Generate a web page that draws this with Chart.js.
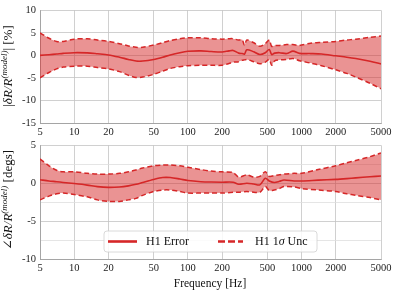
<!DOCTYPE html>
<html><head><meta charset="utf-8">
<script src="https://cdn.jsdelivr.net/npm/chart.js@4.4.0/dist/chart.umd.min.js"></script>
<style>
html,body{margin:0;padding:0;background:#fff;}
#wrap{position:relative;width:399px;height:296px;}
#c1{position:absolute;left:0;top:0;}
#c2{position:absolute;left:0;top:135px;}
</style></head><body>
<div id="wrap">
<div id="c1" style="width:399px;height:145px"><canvas id="top"></canvas></div>
<div id="c2" style="width:399px;height:161px"><canvas id="bot"></canvas></div>
</div>
<script>
// ---- data ----
const xTickValues = [5,10,20,50,100,200,500,1000,2000,5000];
const magTicks = [-15,-10,-5,0,5,10];
const phaseTicks = [-10,-5,0,5];

const magFreq  = [5,6,7,8,10,13,16,20,25,30,35,40,50,60,70,85,100,130,160,200,230,250,280,300,315,330,380,430,480,520,546,580,640,740,840,960,1200,1500,2000,2500,3000,4000,5000];
const magErr   = [0,0.15,0.3,0.45,0.6,0.55,0.35,0.1,-0.4,-0.9,-1.25,-1.25,-0.9,-0.4,0.1,0.6,0.9,1.0,0.85,0.75,1.0,1.1,0.5,0.4,0.3,1.25,0.8,0.2,0.6,1.3,0.15,0.5,0.6,0.4,0.95,0.45,0.4,0.3,-0.1,-0.4,-0.7,-1.3,-1.9];
const magUp    = [5.0,3.8,3.1,3.1,3.6,3.7,3.4,3.1,2.6,2.1,1.8,1.8,2.3,2.8,3.3,3.7,3.9,3.9,3.7,3.6,3.7,3.7,3.4,3.5,2.2,3.4,2.8,2.0,2.6,3.4,2.0,2.2,2.2,2.4,2.4,2.2,2.7,2.9,3.1,3.4,3.6,4.0,4.3];
const magLo    = [-5.0,-3.8,-3.0,-2.6,-2.4,-2.4,-2.7,-3.0,-3.6,-4.4,-4.9,-4.8,-4.2,-3.5,-2.9,-2.5,-2.3,-2.2,-2.2,-2.2,-1.8,-1.5,-1.4,-1.1,-1.0,-0.9,-1.4,-1.85,-1.5,-0.9,-2.2,-1.2,-1.0,-0.9,-0.7,-1.2,-1.7,-2.3,-3.2,-4.0,-4.8,-6.2,-7.4];

const phaseFreq = [5,6,7,8,10,13,16,20,25,30,35,40,50,60,70,85,100,130,160,200,250,280,330,380,430,480,520,575,640,700,860,1000,1400,2000,2500,3000,4000,5000];
const phaseErr  = [0.45,0.3,0.2,0.1,-0.05,-0.25,-0.45,-0.55,-0.5,-0.35,-0.15,0.1,0.5,0.75,0.75,0.55,0.35,0.2,0.15,0.13,0.13,-0.13,0,-0.1,-0.22,0.65,0.3,0.1,0.25,0.43,0.3,0.3,0.4,0.5,0.6,0.7,0.85,0.95];
const phaseUp   = [3.2,2.3,1.7,1.5,1.5,1.3,1.2,1.2,1.3,1.5,1.75,2.0,2.3,2.4,2.4,2.3,2.1,1.8,1.6,1.5,1.4,0.8,1.1,0.8,0.9,1.5,0.9,1.0,1.1,1.2,1.3,1.3,1.8,2.3,2.7,3.0,3.5,4.0];
const phaseLo   = [-2.2,-1.7,-1.4,-1.3,-1.5,-1.8,-2.2,-2.4,-2.4,-2.2,-2.0,-1.6,-1.1,-0.9,-0.9,-1.1,-1.3,-1.3,-1.3,-1.3,-1.2,-1.2,-1.1,-1.2,-1.2,-0.45,-0.97,-0.9,-0.7,-0.45,-0.5,-0.7,-0.9,-1.1,-1.4,-1.6,-1.9,-2.2];

const legendLabels = ['H1 Error','H1 1\u03c3 Unc'];

// ---- styles ----
const RED = '#d62728';
const FILL = 'rgba(214,39,40,0.5)';
const SERIF = '"Liberation Serif", "DejaVu Serif", serif';

function pts(xs, ys){ return xs.map((x,i)=>({x:x, y:ys[i]})); }

function datasets(f, e, u, l){
  return [
    {data:pts(f,u), borderColor:RED, borderWidth:1.5, borderDash:[5,3], backgroundColor:FILL, fill:'+1', pointRadius:0, tension:0.3, order:2},
    {data:pts(f,l), borderColor:RED, borderWidth:1.5, borderDash:[5,3], fill:false, pointRadius:0, tension:0.3, order:2},
    {data:pts(f,e), borderColor:RED, borderWidth:1.6, fill:false, pointRadius:0, tension:0.3, order:1}
  ];
}

function drawRich(ctx, cx, cy, segs){
  ctx.save();
  ctx.translate(cx, cy);
  ctx.rotate(-Math.PI/2);
  ctx.textBaseline = 'alphabetic';
  ctx.fillStyle = '#111';
  let w = 0;
  segs.forEach(s=>{ ctx.font = s.font; w += ctx.measureText(s.t).width; });
  let x = -w/2;
  segs.forEach(s=>{ ctx.font = s.font; ctx.fillText(s.t, x, 4 + (s.dy||0)); x += ctx.measureText(s.t).width; });
  ctx.restore();
}

function xScale(){
  return {
    type:'logarithmic', min:5, max:5000,
    afterBuildTicks: s => { s.ticks = xTickValues.map(v=>({value:v})); },
    ticks:{autoSkip:false, maxRotation:0, padding:3, color:'#222', font:{family:SERIF, size:10.5},
      callback: v => String(v)},
    grid:{color:'#c4c4c4', lineWidth:0.8, drawTicks:false},
    border:{display:true, color:'#9a9a9a', width:0.8}
  };
}
function yScale(min, max, major){
  return {
    type:'linear', min:min, max:max,
    afterFit: s => { s.width = 40; },
    afterBuildTicks: s => { const t=[]; for(let v=min; v<=max+1e-9; v+=2.5) t.push({value:v}); s.ticks=t; },
    ticks:{padding:4, color:'#222', font:{family:SERIF, size:10.5},
      callback: v => (major.includes(v) ? String(v) : '')},
    grid:{color: c => (c.tick && major.includes(c.tick.value)) ? '#c4c4c4' : '#dedede', lineWidth:0.8, drawTicks:false},
    border:{display:true, color:'#9a9a9a', width:0.8}
  };
}

const topTitle = {
  id:'topTitle',
  afterDraw(chart){
    const ctx = chart.ctx;
    drawRich(ctx, 8, 66, [
      {t:'|', font:'13px '+SERIF},
      {t:'\u03b4R/R', font:'italic 13px '+SERIF},
      {t:'(model)', font:'italic 9px '+SERIF, dy:-5},
      {t:'| [%]', font:'13px '+SERIF}
    ]);
  }
};
const botDeco = {
  id:'botDeco',
  afterDraw(chart){
    const ctx = chart.ctx;
    drawRich(ctx, 8, 65, [
      {t:'\u2220', font:'13px '+SERIF},
      {t:'\u03b4R/R', font:'italic 13px '+SERIF},
      {t:'(model)', font:'italic 9px '+SERIF, dy:-5},
      {t:' [degs]', font:'13px '+SERIF}
    ]);
    // x title
    ctx.save();
    ctx.fillStyle = '#111';
    ctx.font = '11.5px '+SERIF;
    ctx.textAlign = 'center'; ctx.textBaseline = 'middle';
    ctx.fillText('Frequency [Hz]', 210, 149);
    ctx.restore();
    // legend
    ctx.save();
    const bx=104, by=96, bw=213, bh=21, r=3;
    ctx.beginPath();
    ctx.moveTo(bx+r,by); ctx.lineTo(bx+bw-r,by); ctx.quadraticCurveTo(bx+bw,by,bx+bw,by+r);
    ctx.lineTo(bx+bw,by+bh-r); ctx.quadraticCurveTo(bx+bw,by+bh,bx+bw-r,by+bh);
    ctx.lineTo(bx+r,by+bh); ctx.quadraticCurveTo(bx,by+bh,bx,by+bh-r);
    ctx.lineTo(bx,by+r); ctx.quadraticCurveTo(bx,by,bx+r,by); ctx.closePath();
    ctx.fillStyle='rgba(255,255,255,0.85)'; ctx.fill();
    ctx.strokeStyle='#d0d0d0'; ctx.lineWidth=0.8; ctx.stroke();
    const ly = by + bh/2;
    ctx.strokeStyle = RED; ctx.lineWidth = 2.6;
    ctx.beginPath(); ctx.moveTo(108, ly); ctx.lineTo(137, ly); ctx.stroke();
    ctx.setLineDash([7,3]);
    ctx.beginPath(); ctx.moveTo(218, ly); ctx.lineTo(243, ly); ctx.stroke();
    ctx.setLineDash([]);
    ctx.fillStyle = '#111'; ctx.textBaseline='middle'; ctx.textAlign='left';
    ctx.font = '12px '+SERIF;
    ctx.fillText(legendLabels[0], 146, ly+0.5);
    // second label with italic sigma
    const parts = legendLabels[1].split('\u03c3');
    let x = 255;
    ctx.font = '12px '+SERIF; ctx.fillText(parts[0], x, ly+0.5); x += ctx.measureText(parts[0]).width;
    ctx.font = 'italic 12px '+SERIF; ctx.fillText('\u03c3', x, ly+0.5); x += ctx.measureText('\u03c3').width;
    ctx.font = '12px '+SERIF; ctx.fillText(parts[1], x, ly+0.5);
    ctx.restore();
  }
};

const common = {
  responsive:true, maintainAspectRatio:false, animation:false,
  plugins:{legend:{display:false}, tooltip:{enabled:false}},
  elements:{line:{borderCapStyle:'butt'}}
};

const xs1 = xScale(); xs1.afterFit = s => { s.height = 22; };
new Chart(document.getElementById('top'), {
  type:'line',
  data:{datasets:datasets(magFreq, magErr, magUp, magLo)},
  options:Object.assign({}, common, {
    layout:{padding:{top:10, right:18, left:0, bottom:0}},
    scales:{x:xs1, y:yScale(-15, 10, magTicks)}
  }),
  plugins:[topTitle]
});

const xs2 = xScale(); xs2.afterFit = s => { s.height = 37; };
new Chart(document.getElementById('bot'), {
  type:'line',
  data:{datasets:datasets(phaseFreq, phaseErr, phaseUp, phaseLo)},
  options:Object.assign({}, common, {
    layout:{padding:{top:10, right:18, left:0, bottom:0}},
    scales:{x:xs2, y:yScale(-10, 5, phaseTicks)}
  }),
  plugins:[botDeco]
});
</script>
</body></html>
